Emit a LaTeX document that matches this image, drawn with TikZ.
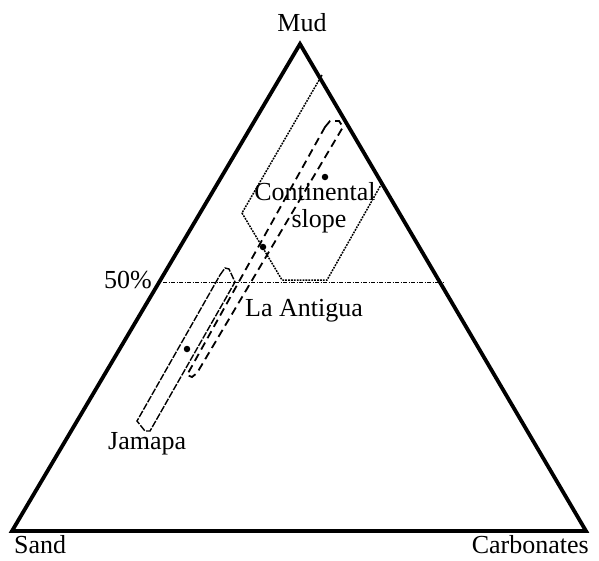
\documentclass[tikz,border=0pt]{standalone}
\usepackage{fontspec}
\setmainfont{Liberation Serif}
\begin{document}
\begin{tikzpicture}[x=1pt,y=-1pt,
  lbl/.style={inner sep=0pt,font=\fontsize{26}{30}\selectfont},
  frame/.style={line width=3.8pt,line join=miter},
  antigua/.style={line width=1.8pt,dash pattern=on 8pt off 5pt},
  jamapa/.style={line width=1.4pt,dash pattern=on 7pt off 1.5pt},
  slope/.style={line width=1.5pt,dash pattern=on 1.8pt off 1.1pt},
  half/.style={line width=0.8pt,dash pattern=on 4pt off 1.5pt on 1pt off 1.5pt},
  dot/.style={circle,fill=black,inner sep=0pt,minimum size=6.5pt}]
\useasboundingbox (0,0) rectangle (599,560);
% triangle
\coordinate (M) at (300,44);
\coordinate (S) at (12,531);
\coordinate (C) at (586,531);
\draw[frame] (S) -- (M) -- (C) -- cycle;
% 50% line
\coordinate (h1) at (163,282);
\coordinate (h2) at (444,282);
\draw[half] (h1) -- (h2);
% continental slope polygon
\draw[slope] (322,75) -- (242,213) -- (282,280) -- (327,280) -- (382,183);
% La Antigua
\draw[antigua] (325,127) -- (330,121) -- (339,121) -- (343,127) -- (197,373) -- (192,377) -- (187,375) -- cycle;
% Jamapa
\draw[jamapa] (220,275) -- (225,268) -- (229,269) -- (235,282) -- (150,431) -- (145,431) -- (137,421) -- cycle;
% dots
\node[dot] (d1) at (325,177) {};
\node[dot] (d2) at (263,247) {};
\node[dot] (d3) at (187,349) {};
% labels
\node[lbl,anchor=base] (mud) at (302,31) {Mud};
\node[lbl,anchor=base west] (sand) at (14,553) {Sand};
\node[lbl,anchor=base east] (carb) at (589,553) {Carbonates};
\node[lbl,anchor=base east] (pct) at (152,288) {50\%};
\node[lbl,anchor=base] (cont) at (315,200) {Continental};
\node[lbl,anchor=base] (slp) at (319,227) {slope};
\node[lbl,anchor=base west] (ant) at (245,316) {La Antigua};
\node[lbl,anchor=base west] (jam) at (108,449) {Jamapa};
\end{tikzpicture}
\end{document}
